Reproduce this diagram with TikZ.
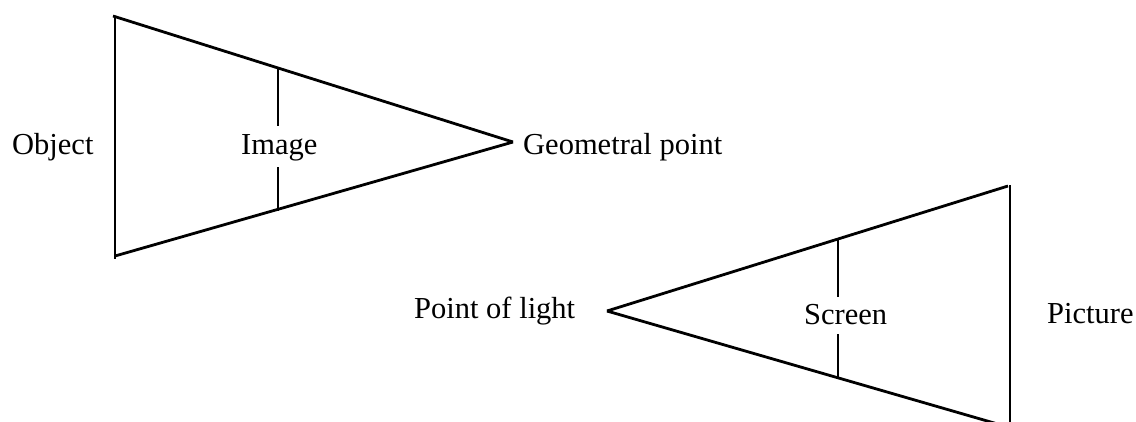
\documentclass[tikz,border=0pt]{standalone}
\usepackage{fontspec}
\setmainfont{Liberation Serif}
\begin{document}
\begin{tikzpicture}[x=1pt,y=-1pt,
  ln/.style={line width=2.8pt,line cap=butt},
  lbl/.style={inner sep=0pt,anchor=base west,font=\fontsize{30.5}{36}\selectfont}]
\useasboundingbox (0,0) rectangle (1136,421);
\clip (0,0) rectangle (1136,421);
% left triangle
\coordinate (LT) at (115,16);
\coordinate (LT2) at (113,16);
\coordinate (LB) at (115,259);
\coordinate (LBc) at (115,256);
\coordinate (GA) at (513,142);
\coordinate (IT) at (278,68);
\coordinate (IT2) at (278,126);
\coordinate (IB2) at (278,167);
\coordinate (IB) at (278,211);
\draw[ln] (LT) -- (LB);
\draw[ln] (LT2) -- (GA);
\draw[ln] (LBc) -- (GA);
\draw[ln] (IT) -- (IT2);
\draw[ln] (IB2) -- (IB);
% right triangle
\coordinate (PA) at (607,311);
\coordinate (RT) at (1008,186);
\coordinate (RB) at (1010,425);
\coordinate (RTv) at (1010,185);
\coordinate (RBl) at (1008,427);
\coordinate (ST) at (838,238);
\coordinate (ST2) at (838,297);
\coordinate (SB2) at (838,334);
\coordinate (SB) at (838,379);
\draw[ln] (RTv) -- (RB);
\draw[ln] (PA) -- (RT);
\draw[ln] (PA) -- (RBl);
\draw[ln] (ST) -- (ST2);
\draw[ln] (SB2) -- (SB);
% labels
\node[lbl] (obj) at (12,154) {Object};
\node[lbl] (img) at (241,154) {Image};
\node[lbl] (geo) at (523,154) {Geometral point};
\node[lbl] (pol) at (414,318) {Point of light};
\node[lbl] (scr) at (804,324) {Screen};
\node[lbl] (pic) at (1047,323) {Picture};
\end{tikzpicture}
\end{document}
